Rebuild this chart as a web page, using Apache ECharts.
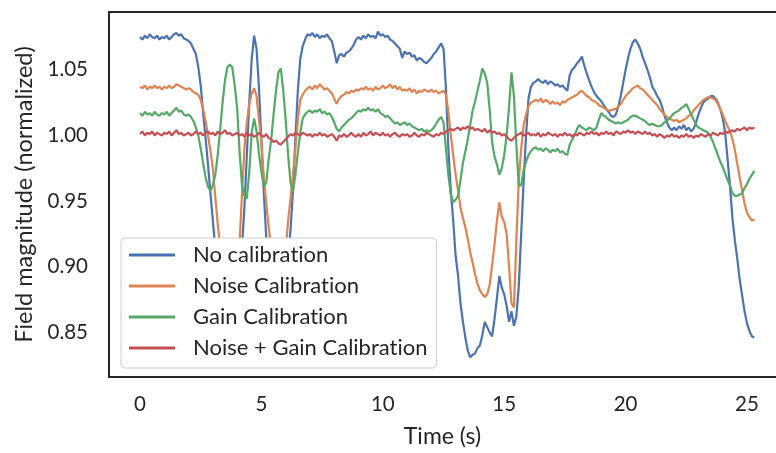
<!DOCTYPE html>
<html>
<head>
<meta charset="utf-8">
<script src="https://cdn.jsdelivr.net/npm/echarts@6/dist/echarts.min.js"></script>
<style>
html,body{margin:0;padding:0;background:#fff;}
#c{width:776px;height:453px;}
</style>
</head>
<body>
<div id="c"></div>
<script>
// Turn off typographic ligatures ("ti") so labels render letter by letter like the reference
(function () {
  const P = CanvasRenderingContext2D.prototype;
  const wrap = name => {
    const orig = P[name];
    P[name] = function () {
      try { if ('textRendering' in this) this.textRendering = 'optimizeSpeed'; } catch (e) {}
      return orig.apply(this, arguments);
    };
  };
  wrap('fillText'); wrap('strokeText'); wrap('measureText');
})();

const seriesNames = ['No calibration', 'Noise Calibration', 'Gain Calibration', 'Noise + Gain Calibration'];
const xTicks = [0, 5, 10, 15, 20, 25];
const yTicks = [0.85, 0.90, 0.95, 1.00, 1.05];
const sampleStep = 0.1; // seconds between samples

const noCal = [
1.075,1.073,1.076,1.074,1.077,1.075,1.074,1.076,1.073,1.075,
1.074,1.076,1.073,1.075,1.077,1.078,1.076,1.077,1.074,1.073,
1.072,1.070,1.066,1.062,1.052,1.038,1.017,0.998,0.978,0.956,
0.935,0.914,0.895,0.880,0.868,0.862,0.860,0.862,0.868,0.878,
0.888,0.900,0.915,0.945,0.985,1.025,1.058,1.076,1.066,1.036,
0.996,0.956,0.922,0.895,0.878,0.868,0.864,0.866,0.872,0.882,
0.893,0.908,0.928,0.958,0.998,1.034,1.058,1.068,1.073,1.077,
1.076,1.078,1.075,1.077,1.074,1.076,1.075,1.077,1.074,1.072,
1.064,1.055,1.061,1.062,1.060,1.063,1.064,1.066,1.069,1.073,
1.075,1.073,1.076,1.074,1.077,1.075,1.076,1.074,1.079,1.076,
1.077,1.075,1.076,1.073,1.072,1.070,1.068,1.066,1.059,1.064,
1.062,1.063,1.060,1.061,1.057,1.059,1.058,1.056,1.055,1.057,
1.059,1.062,1.064,1.067,1.070,1.066,1.036,0.990,0.958,0.935,
0.908,0.893,0.872,0.858,0.846,0.836,0.831,0.833,0.834,0.838,
0.840,0.848,0.858,0.854,0.850,0.847,0.860,0.876,0.893,0.884,
0.879,0.870,0.858,0.866,0.855,0.862,0.885,0.925,0.965,1.000,
1.028,1.037,1.040,1.041,1.043,1.041,1.040,1.042,1.039,1.041,
1.040,1.038,1.039,1.037,1.038,1.036,1.034,1.046,1.050,1.052,
1.055,1.057,1.060,1.053,1.047,1.042,1.037,1.033,1.030,1.028,
1.026,1.023,1.020,1.018,1.015,1.014,1.016,1.022,1.030,1.040,
1.050,1.059,1.066,1.071,1.073,1.070,1.066,1.060,1.055,1.050,
1.044,1.037,1.034,1.030,1.027,1.022,1.015,1.010,1.006,1.004,
1.006,1.004,1.007,1.005,1.008,1.004,1.006,1.003,1.005,1.010,
1.016,1.021,1.025,1.027,1.028,1.030,1.030,1.028,1.025,1.020,
1.013,1.002,0.982,0.961,0.937,0.920,0.906,0.890,0.878,0.866,
0.857,0.851,0.847,0.846
];

const noiseCal = [
1.037,1.036,1.038,1.035,1.037,1.036,1.038,1.036,1.037,1.035,
1.037,1.036,1.038,1.036,1.037,1.039,1.038,1.037,1.036,1.035,
1.036,1.035,1.033,1.032,1.031,1.027,1.020,1.011,1.000,0.988,
0.975,0.953,0.933,0.915,0.900,0.890,0.885,0.884,0.886,0.893,
0.903,0.918,0.955,0.990,1.010,1.024,1.032,1.036,1.030,1.012,
0.995,0.968,0.948,0.930,0.915,0.902,0.893,0.888,0.887,0.893,
0.912,0.935,0.952,0.970,0.990,1.012,1.027,1.031,1.034,1.036,
1.037,1.035,1.038,1.036,1.039,1.037,1.035,1.036,1.034,1.032,
1.028,1.024,1.028,1.030,1.031,1.033,1.032,1.034,1.033,1.035,
1.034,1.036,1.035,1.037,1.035,1.036,1.034,1.037,1.035,1.036,
1.038,1.036,1.037,1.039,1.036,1.038,1.035,1.037,1.034,1.035,
1.034,1.036,1.033,1.035,1.032,1.034,1.033,1.035,1.034,1.033,
1.035,1.033,1.034,1.032,1.033,1.034,1.031,1.018,1.000,0.985,
0.970,0.958,0.945,0.937,0.930,0.921,0.911,0.903,0.894,0.887,
0.882,0.879,0.877,0.879,0.886,0.901,0.917,0.935,0.949,0.938,
0.934,0.925,0.900,0.872,0.869,0.920,0.966,0.990,1.008,1.016,
1.022,1.025,1.026,1.027,1.026,1.028,1.025,1.027,1.026,1.024,
1.026,1.024,1.025,1.023,1.026,1.025,1.027,1.028,1.029,1.030,
1.031,1.033,1.034,1.032,1.030,1.029,1.027,1.026,1.025,1.023,
1.022,1.021,1.020,1.019,1.019,1.020,1.020,1.022,1.024,1.027,
1.030,1.032,1.034,1.036,1.037,1.038,1.036,1.035,1.033,1.031,
1.029,1.027,1.025,1.023,1.020,1.018,1.016,1.014,1.013,1.012,
1.011,1.012,1.010,1.011,1.012,1.013,1.015,1.016,1.019,1.021,
1.023,1.025,1.027,1.028,1.029,1.029,1.028,1.027,1.024,1.020,
1.016,1.011,1.007,1.003,0.997,0.989,0.978,0.968,0.958,0.948,
0.941,0.938,0.935,0.936
];

const gainCal = [
1.017,1.015,1.018,1.016,1.017,1.015,1.018,1.016,1.015,1.017,
1.016,1.018,1.015,1.017,1.019,1.021,1.018,1.019,1.016,1.015,
1.016,1.014,1.011,1.006,1.000,0.990,0.979,0.968,0.961,0.958,
0.962,0.970,0.985,1.004,1.025,1.042,1.052,1.054,1.052,1.038,
1.021,0.988,0.962,0.954,0.952,0.972,1.002,1.013,1.003,0.986,
0.972,0.961,0.964,0.982,0.996,1.016,1.034,1.048,1.051,1.034,
1.012,0.985,0.964,0.957,0.970,0.987,1.002,1.013,1.016,1.018,
1.019,1.017,1.019,1.018,1.020,1.017,1.018,1.016,1.017,1.014,
1.010,1.005,1.003,1.006,1.008,1.010,1.012,1.013,1.015,1.017,
1.019,1.018,1.020,1.019,1.021,1.019,1.020,1.018,1.020,1.017,
1.016,1.014,1.015,1.013,1.011,1.009,1.010,1.008,1.009,1.010,
1.008,1.009,1.007,1.006,1.005,1.004,1.005,1.003,1.004,1.003,
1.004,1.006,1.009,1.012,1.014,1.010,0.990,0.970,0.955,0.949,
0.951,0.954,0.966,0.979,0.988,0.997,1.008,1.019,1.026,1.034,
1.042,1.051,1.047,1.040,1.020,0.995,0.984,0.978,0.970,0.975,
0.985,1.000,1.022,1.048,1.030,0.993,0.962,0.962,0.974,0.980,
0.985,0.988,0.990,0.991,0.989,0.990,0.988,0.990,0.989,0.987,
0.989,0.988,0.990,0.987,0.988,0.986,0.985,0.993,0.997,1.000,
1.005,1.008,1.006,1.005,1.004,1.006,1.005,1.004,1.006,1.012,
1.017,1.015,1.014,1.012,1.011,1.010,1.009,1.010,1.009,1.010,
1.011,1.012,1.014,1.015,1.015,1.014,1.013,1.012,1.011,1.009,
1.008,1.009,1.008,1.007,1.007,1.008,1.010,1.011,1.013,1.015,
1.017,1.018,1.019,1.021,1.022,1.024,1.020,1.016,1.012,1.008,
1.006,1.005,1.004,1.003,1.002,0.999,0.995,0.990,0.985,0.980,
0.976,0.971,0.966,0.962,0.956,0.954,0.954,0.955,0.956,0.960,
0.963,0.967,0.970,0.973
];

const noiseGainCal = [
1.001,1.003,1.000,1.002,1.001,1.003,1.000,1.002,1.001,1.000,
1.002,1.001,1.003,1.000,1.002,1.004,1.001,1.002,1.000,1.001,
1.002,1.000,1.001,1.003,1.001,1.002,1.000,1.002,1.003,1.001,
1.002,1.000,1.003,1.001,1.002,1.004,1.001,1.002,1.000,1.001,
1.002,1.000,1.001,0.999,1.002,1.000,1.001,0.999,1.000,1.002,
1.000,0.999,1.001,0.998,0.997,0.995,0.996,0.994,0.993,0.995,
0.997,0.999,1.001,1.000,1.002,1.001,1.000,1.002,1.001,1.000,
1.001,0.999,1.001,1.000,1.002,1.000,1.001,0.999,1.000,1.001,
0.999,0.996,1.000,0.999,1.001,0.999,1.000,1.002,1.000,0.999,
1.001,0.999,1.002,1.000,1.001,1.003,1.000,1.002,1.001,1.000,
1.002,1.000,1.001,0.999,1.001,1.002,1.000,0.999,1.001,1.000,
1.001,0.999,1.000,1.002,1.000,0.999,1.001,1.000,1.002,1.001,
1.000,0.999,1.001,1.000,1.002,1.001,1.003,1.004,1.005,1.004,
1.005,1.006,1.004,1.006,1.005,1.007,1.005,1.006,1.004,1.005,
1.004,1.003,1.005,1.002,1.004,1.002,1.003,1.001,1.002,1.000,
1.001,0.999,0.997,0.996,0.998,1.000,1.001,1.002,1.000,1.001,
1.002,1.000,1.001,1.000,1.002,0.999,1.001,1.000,1.002,1.001,
1.000,1.001,0.999,1.001,1.000,1.002,1.000,1.001,0.999,1.001,
1.000,1.002,1.001,1.000,1.002,1.001,1.003,1.001,1.002,1.000,
1.002,1.001,1.003,1.001,1.002,1.000,1.003,1.002,1.001,1.003,
1.002,1.004,1.002,1.003,1.001,1.003,1.002,1.001,1.003,1.001,
1.002,1.000,1.001,0.999,1.001,1.000,0.998,1.000,0.999,1.001,
0.999,1.000,0.998,1.000,0.999,1.001,0.999,1.000,0.998,1.000,
0.999,1.001,1.000,0.999,1.001,1.000,1.002,1.001,1.000,1.002,
1.001,1.003,1.002,1.003,1.004,1.003,1.005,1.004,1.005,1.006,
1.004,1.006,1.005,1.006
];

const colors = ['#4C72B0', '#DD8452', '#55A868', '#C44E52'];
const allValues = [noCal, noiseCal, gainCal, noiseGainCal];
const times = noCal.map((_, i) => Math.round(i * sampleStep * 10) / 10);

const chart = echarts.init(document.getElementById('c'), null, {renderer: 'canvas'});
const font = 'Lato, "Noto Sans", sans-serif';
const txt = '#262626';
const spine = {show: true, onZero: false, lineStyle: {color: '#262626', width: 2}};
const X_MIN = -1.277, X_MAX = 26.194;

chart.setOption({
  animation: false,
  backgroundColor: '#ffffff',
  grid: {left: 109, top: 12, right: 0, bottom: 73},
  xAxis: [{
    type: 'value', min: X_MIN, max: X_MAX, position: 'bottom',
    name: 'Time (s)', nameLocation: 'middle', nameGap: 48,
    nameTextStyle: {fontFamily: font, fontSize: 23, color: txt},
    axisLine: spine, axisTick: {show: false}, splitLine: {show: false},
    axisLabel: {customValues: xTicks, fontFamily: font, fontSize: 20.5, color: txt, margin: 17,
      formatter: v => String(v)}
  }, {
    type: 'value', min: X_MIN, max: X_MAX, position: 'top',
    axisLine: spine, axisTick: {show: false}, splitLine: {show: false}, axisLabel: {show: false}
  }],
  yAxis: {
    type: 'value', min: 0.816, max: 1.094, position: 'left',
    name: 'Field magnitude (normalized)', nameLocation: 'middle', nameGap: 72, nameRotate: 90,
    nameTextStyle: {fontFamily: font, fontSize: 23.5, color: txt},
    axisLine: spine, axisTick: {show: false}, splitLine: {show: false},
    axisLabel: {customValues: yTicks, fontFamily: font, fontSize: 20.5, color: txt, margin: 21,
      formatter: v => v.toFixed(2)}
  },
  legend: {
    orient: 'vertical', left: 121, top: 238,
    data: seriesNames,
    icon: 'rect', itemWidth: 46, itemHeight: 3, itemGap: 9,
    padding: [6, 9, 9, 8],
    backgroundColor: '#ffffff', borderColor: '#cccccc', borderWidth: 1, borderRadius: 4,
    textStyle: {fontFamily: font, fontSize: 22, color: txt, lineHeight: 22, padding: [0, 0, 0, 13]}
  },
  series: seriesNames.map((name, k) => ({
    name, type: 'line', showSymbol: false, symbol: 'none',
    data: times.map((t, i) => [t, allValues[k][i]]),
    lineStyle: {color: colors[k], width: 2.2},
    itemStyle: {color: colors[k]},
    emphasis: {disabled: true}
  }))
});
</script>
</body>
</html>
